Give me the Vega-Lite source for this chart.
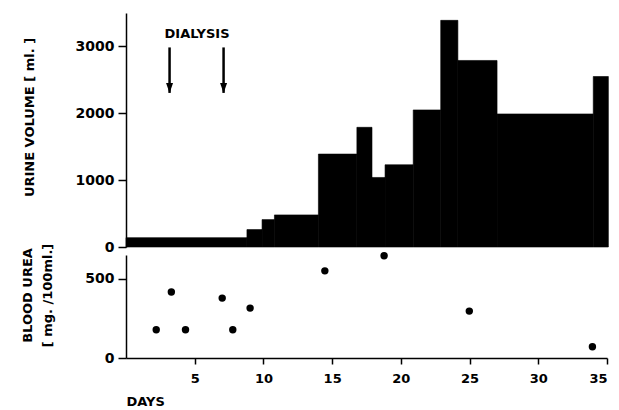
{
  "$schema": "https://vega.github.io/schema/vega-lite/v6.json",
  "background": "white",
  "padding": {"left": 21, "right": 5, "top": 13, "bottom": 0},
  "spacing": 8,
  "bounds": "flush",
  "config": {
    "view": {"stroke": null},
    "font": "DejaVu Sans",
    "axis": {
      "grid": false,
      "domainColor": "black",
      "domainWidth": 1.5,
      "tickColor": "black",
      "tickWidth": 1.5,
      "labelColor": "black",
      "labelFont": "DejaVu Sans",
      "labelFontSize": 13,
      "labelFontWeight": "bold",
      "titleColor": "black",
      "titleFont": "DejaVu Sans",
      "titleFontSize": 13,
      "titleFontWeight": "bold"
    }
  },
  "datasets": {
    "urine": [
      {"start": 0, "end": 8.8, "volume": 140},
      {"start": 8.8, "end": 9.9, "volume": 260},
      {"start": 9.9, "end": 10.8, "volume": 410},
      {"start": 10.8, "end": 14, "volume": 480},
      {"start": 14, "end": 16.8, "volume": 1390},
      {"start": 16.8, "end": 17.9, "volume": 1790},
      {"start": 17.9, "end": 18.85, "volume": 1040},
      {"start": 18.85, "end": 20.9, "volume": 1230},
      {"start": 20.9, "end": 22.9, "volume": 2050},
      {"start": 22.9, "end": 24.15, "volume": 3390},
      {"start": 24.15, "end": 27, "volume": 2790},
      {"start": 27, "end": 34, "volume": 1990},
      {"start": 34, "end": 35.1, "volume": 2550}
    ],
    "urea": [
      {"day": 2.2, "urea": 178},
      {"day": 3.3, "urea": 416},
      {"day": 4.33, "urea": 178},
      {"day": 7.0, "urea": 378},
      {"day": 7.77, "urea": 178},
      {"day": 9.03, "urea": 315},
      {"day": 14.47, "urea": 550},
      {"day": 18.78, "urea": 645},
      {"day": 24.98, "urea": 296},
      {"day": 33.94, "urea": 71}
    ],
    "dialysis": [
      {"day": 3.17, "top": 2985, "tip": 2305},
      {"day": 7.1, "top": 2985, "tip": 2305}
    ],
    "label": [
      {"day": 5.17, "value": 3184, "text": "DIALYSIS"}
    ]
  },
  "vconcat": [
    {
      "width": 481,
      "height": 234,
      "layer": [
        {
          "data": {"name": "urine"},
          "mark": {"type": "rect", "color": "black", "stroke": "black", "strokeWidth": 0.6},
          "encoding": {
            "x": {"field": "start", "type": "quantitative", "scale": {"domain": [0, 35], "nice": false}, "axis": null},
            "x2": {"field": "end"},
            "y": {"field": "volume", "type": "quantitative", "scale": {"domain": [0, 3500], "nice": false},
              "axis": {"values": [0, 1000, 2000, 3000], "format": "d", "labelFontSize": 14, "tickSize": 8, "labelPadding": 4, "title": "URINE VOLUME [ ml. ]", "titleX": -90, "titleY": 104}},
            "y2": {"datum": 0}
          }
        },
        {
          "data": {"name": "dialysis"},
          "mark": {"type": "rule", "color": "black", "strokeWidth": 2.5},
          "encoding": {
            "x": {"field": "day", "type": "quantitative"},
            "y": {"field": "top", "type": "quantitative"},
            "y2": {"field": "tip"}
          }
        },
        {
          "data": {"name": "dialysis"},
          "mark": {"type": "point", "filled": true, "color": "black", "opacity": 1, "shape": "M -0.35 -1 L 0 0 L 0.35 -1 Z", "size": 400},
          "encoding": {
            "x": {"field": "day", "type": "quantitative"},
            "y": {"field": "tip", "type": "quantitative"}
          }
        },
        {
          "data": {"name": "label"},
          "mark": {"type": "text", "color": "black", "fontSize": 13, "fontWeight": "bold", "font": "DejaVu Sans", "baseline": "middle", "align": "center"},
          "encoding": {
            "x": {"field": "day", "type": "quantitative"},
            "y": {"field": "value", "type": "quantitative"},
            "text": {"field": "text"}
          }
        }
      ]
    },
    {
      "width": 481,
      "height": 103,
      "data": {"name": "urea"},
      "mark": {"type": "point", "filled": true, "color": "black", "opacity": 1, "size": 55},
      "encoding": {
        "x": {"field": "day", "type": "quantitative", "scale": {"domain": [0, 35], "nice": false},
          "axis": {"values": [5, 10, 15, 20, 25, 30, 35], "tickSize": 6, "labelPadding": 8, "title": "DAYS", "titleAnchor": "start", "titleAlign": "left", "titleX": 0, "titleY": 37}},
        "y": {"field": "urea", "type": "quantitative", "scale": {"domain": [0, 650], "nice": false},
          "axis": {"values": [0, 500], "format": "d", "labelFontSize": 14, "tickSize": 8, "labelPadding": 4, "title": ["BLOOD UREA", "[ mg. /100ml.]"], "titleLineHeight": 20, "titleX": -92, "titleY": 40}}
      }
    }
  ]
}
